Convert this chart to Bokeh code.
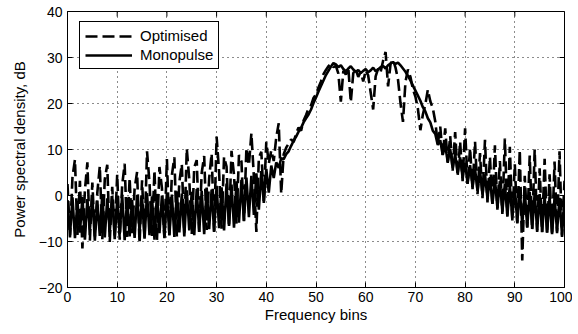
import math
from bokeh.plotting import figure
from bokeh.models import (ColumnDataSource, FixedTicker, Legend, LegendItem,
                          Range1d)
from bokeh.embed import file_html
from bokeh.resources import INLINE

# Frequency bins (half-bin resolution, 0 .. 100)
bin_step = 0.5
freq_bins = [i * bin_step for i in range(201)]

# Monopulse power spectral density, dB
monopulse = [
    -1.0, -8.6, -0.4, -9.3, -1.2, -8.1, -0.3, -9.6, -0.8, -7.4,
    -0.2, -9.8, -1.1, -8.8, 0.3, -9.1, -0.6, -7.9, -0.1, -9.5,
    -0.9, -8.4, 0.2, -9.7, -0.5, -8.9, -1.0, -9.2, 0.1, -7.8,
    -0.4, -9.4, 0.5, -8.6, -0.2, -9.6, 0.3, -8.2, 0.0, -9.3,
    0.6, -8.7, 0.2, -9.0, 0.9, -8.0, 0.4, -8.9, 1.1, -7.6,
    0.8, -8.6, 1.4, -7.9, 1.0, -8.4, 1.7, -7.3, 1.3, -7.9,
    2.1, -7.1, 1.8, -7.6, 2.6, -6.6, 2.4, -7.0, 3.1, -5.9,
    3.4, -5.6, 3.9, -4.7, 4.3, -4.2, 4.8, -3.1, 5.3, -1.6,
    5.8, 0.6, 6.5, 3.8, 7.2, 6.0, 8.1, 7.9, 9.0, 9.6,
    10.8, 11.9, 12.8, 13.9, 14.7, 15.9, 16.8, 17.6, 18.7, 20.1,
    21.3, 22.6, 23.8, 25.0, 26.2, 27.1, 28.0, 28.8, 28.5, 27.9,
    28.3, 27.5, 27.0, 27.6, 28.1, 27.4, 26.9, 27.3, 26.6, 27.1,
    27.5, 26.8, 27.2, 27.8, 27.0, 27.4, 27.9, 28.2, 27.6, 28.3,
    28.7, 29.0, 28.6, 28.9, 28.3, 27.6, 26.9, 26.0, 25.0, 23.9,
    22.8, 21.7, 20.6, 19.2, 18.3, 16.8, 15.9, 14.1, 13.4, 11.0,
    12.0, 8.8, 10.9, 7.3, 10.1, 5.9, 9.0, 4.8, 8.3, 3.9,
    7.1, 2.6, 6.6, 1.9, 5.8, 1.0, 5.4, 0.2, 4.6, -0.6,
    4.0, -1.8, 3.6, -2.7, 3.1, -3.5, 2.6, -4.4, 2.2, -5.0,
    1.8, -5.9, 1.4, -6.3, 1.1, -6.9, 0.8, -7.2, 0.5, -7.6,
    0.3, -7.9, 0.0, -8.1, -0.2, -8.4, -0.4, -7.8, -0.5, -8.7,
    -0.6,
]

# Optimised power spectral density, dB
optimised = [
    2.5, -9.1, 4.0, 7.8, -8.6, 3.2, -11.5, 1.1, 7.2, -9.8,
    2.8, -8.9, 0.6, 6.4, -9.5, 3.5, 6.7, -10.1, 1.9, -8.7,
    4.6, -9.6, 2.2, 6.9, -9.0, 3.8, -8.2, 1.4, 5.1, -10.4,
    3.3, -9.2, 9.6, 2.7, -8.8, 5.4, -9.7, 6.2, 1.6, -9.1,
    7.9, -8.5, 4.4, 8.3, -8.9, 2.9, 6.8, -8.1, 10.2, 3.6,
    -8.4, 6.1, 7.7, -7.9, 4.9, 8.6, -7.5, 3.7, 9.1, -7.8,
    12.8, 5.2, -7.2, 8.4, 6.3, -6.8, 9.7, 4.5, -6.1, 8.8,
    7.4, -5.5, 10.3, 6.6, 13.5, 4.1, -7.9, 8.2, 9.5, -1.2,
    11.7, 6.9, 9.8, 7.5, 12.6, 15.7, 0.4, 9.0, 10.4, 11.3,
    12.2, 11.6, 13.5, 14.8, 14.1, 16.3, 17.5, 18.9, 19.6, 21.2,
    22.0, 23.5, 24.8, 26.4, 27.3, 28.1, 28.6, 27.9, 28.2, 26.5,
    20.4, 27.1, 26.3, 27.8, 20.3, 26.6, 27.4, 25.8, 26.9, 24.8,
    27.2, 26.1, 22.4, 18.7, 25.9, 27.6, 26.8, 29.3, 31.2, 23.7,
    28.6, 29.5, 27.8, 25.2, 20.1, 16.0, 24.7, 27.4, 25.8, 23.1,
    21.5, 18.9, 14.2, 17.6, 19.8, 23.0, 20.5, 19.0, 16.1, 11.2,
    15.0, 8.6, 14.6, 7.1, 12.9, 5.4, 13.8, 4.2, 11.7, 3.1,
    14.6, 2.5, 10.3, 1.4, 11.7, 0.3, 9.2, -0.6, 12.1, -1.5,
    8.4, -2.3, 10.9, -3.1, 7.5, -4.0, 12.4, -4.6, 10.6, -5.4,
    6.8, -6.1, 9.9, -14.1, 4.3, -7.0, 8.7, -7.4, 10.0, -7.9,
    5.9, -8.0, 8.0, -8.3, 4.6, -8.6, 7.4, -8.2, 9.6, -9.0,
    3.2,
]

x_ticks = [0, 10, 20, 30, 40, 50, 60, 70, 80, 90, 100]
y_ticks = [-20, -10, 0, 10, 20, 30, 40]
x_lim = (0, 100)
y_lim = (-20, 40)
series_names = ["Optimised", "Monopulse"]

FONT = "Liberation Sans"

source = ColumnDataSource(dict(x=freq_bins, opt=optimised, mono=monopulse))

p = figure(width=572, height=330, output_backend="svg", toolbar_location=None,
           x_range=Range1d(*x_lim), y_range=Range1d(*y_lim),
           min_border_left=67, min_border_right=8, min_border_top=11,
           min_border_bottom=43)

p.background_fill_color = "white"
p.border_fill_color = "white"
p.outline_line_color = "black"
p.outline_line_width = 1
p.outline_line_alpha = 1

r_opt = p.line("x", "opt", source=source, line_color="black", line_width=2.6,
               line_dash="12 5")
r_mono = p.line("x", "mono", source=source, line_color="black", line_width=2.6)

xt = FixedTicker(ticks=x_ticks, minor_ticks=[])
yt = FixedTicker(ticks=y_ticks, minor_ticks=[])

p.xaxis.ticker = xt
p.yaxis.ticker = yt

for ax in list(p.xaxis) + list(p.yaxis):
    ax.major_tick_in = 5
    ax.major_tick_out = 0
    ax.minor_tick_in = 0
    ax.minor_tick_out = 0
    ax.axis_line_color = "black"
    ax.major_tick_line_color = "black"
    ax.major_label_text_font = FONT
    ax.major_label_text_font_size = "14px"
    ax.major_label_text_color = "black"
    ax.axis_label_text_font = FONT
    ax.axis_label_text_font_size = "15px"
    ax.axis_label_text_font_style = "normal"
    ax.axis_label_text_color = "black"

p.xaxis.axis_label = "Frequency bins"
p.yaxis.axis_label = "Power spectral density, dB"
p.xaxis.major_label_standoff = 4
p.xaxis.axis_label_standoff = 1
p.yaxis.major_label_standoff = 5
p.yaxis.axis_label_standoff = 8

# inward ticks on the top and right edges of the box (clipped to the frame)
p.scatter(x=x_ticks, y=[y_lim[1]] * len(x_ticks), marker="dash", size=10,
          angle=math.pi / 2, line_color="black", line_width=1)
p.scatter(x=[x_lim[1]] * len(y_ticks), y=y_ticks, marker="dash", size=10,
          line_color="black", line_width=1)

p.xgrid.ticker = xt
p.ygrid.ticker = yt
for g in (p.xgrid, p.ygrid):
    g.grid_line_color = "black"
    g.grid_line_dash = "1 4"
    g.grid_line_width = 1
    g.grid_line_alpha = 0.9

legend = Legend(items=[LegendItem(label=series_names[0], renderers=[r_opt]),
                       LegendItem(label=series_names[1], renderers=[r_mono])],
                location=(12, 218))
legend.label_text_font = FONT
legend.label_text_font_size = "15px"
legend.label_text_color = "black"
legend.border_line_color = "black"
legend.border_line_width = 1
legend.border_line_alpha = 1
legend.background_fill_color = "white"
legend.background_fill_alpha = 1
legend.padding = 5
legend.spacing = 2
legend.margin = 0
legend.glyph_width = 47
legend.glyph_height = 16
legend.label_height = 16
legend.label_standoff = 8
p.add_layout(legend, "center")

open("out.html", "w").write(file_html(p, INLINE))
